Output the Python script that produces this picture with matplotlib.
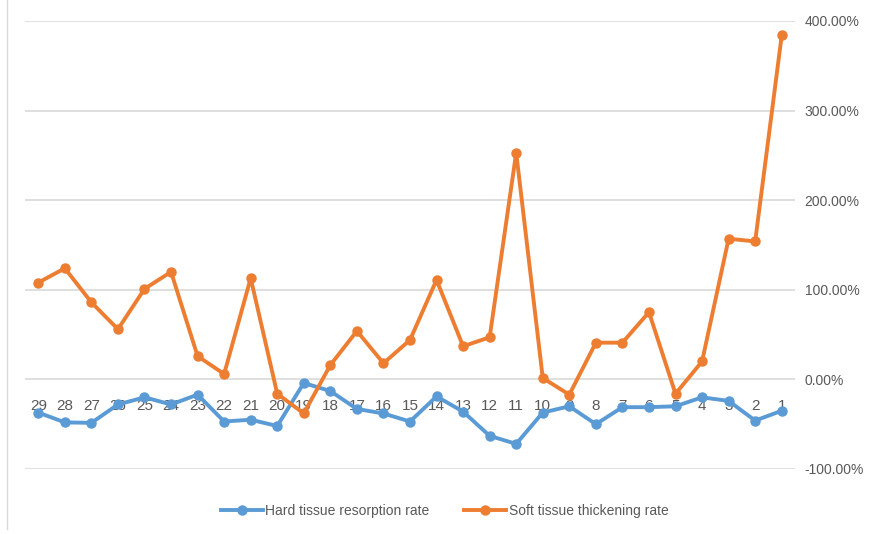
import matplotlib
matplotlib.use('Agg')
import matplotlib.pyplot as plt
from matplotlib.lines import Line2D
from matplotlib.ticker import FuncFormatter, MultipleLocator

plt.rcParams['font.family'] = ['Liberation Sans', 'DejaVu Sans']

# teeth numbers, shown right to left as in the original
teeth = ['29', '28', '27', '26', '25', '24', '23', '22', '21', '20',
         '19', '18', '17', '16', '15', '14', '13', '12', '11', '10',
         '9', '8', '7', '6', '5', '4', '3', '2', '1']
hard_rate = [-37, -48, -48.5, -28, -20, -28, -17, -47, -45, -52,
             -4, -13, -33, -38, -47, -19, -36, -63, -72, -37,
             -30, -50, -31, -31, -30, -20, -24, -46, -35]
soft_rate = [108, 124, 86, 56, 101, 120, 26, 6, 113, -16,
             -38, 16, 54, 18, 44, 111, 37, 47, 253, 1.5,
             -17, 41, 41, 75, -16, 20, 157, 154, 384]

blue = '#5B9BD5'
orange = '#ED7D31'
gray = '#595959'

fig = plt.figure(figsize=(8.69, 5.34), dpi=100)
ax = fig.add_axes([25 / 869, 65 / 534, 770 / 869, 448 / 534])

x = list(range(len(teeth)))
ax.plot(x, hard_rate, color=blue, lw=2.8, marker='o', ms=6.5,
        label='Hard tissue resorption rate', zorder=3)
ax.plot(x, soft_rate, color=orange, lw=2.8, marker='o', ms=6.5,
        label='Soft tissue thickening rate', zorder=3)

ax.set_xlim(-0.5, len(teeth) - 0.5)
ax.set_ylim(-100, 400)
ax.yaxis.set_major_locator(MultipleLocator(100))
ax.yaxis.set_major_formatter(FuncFormatter(lambda v, p: f'{v:.2f}%'))
ax.yaxis.tick_right()
ax.tick_params(axis='y', length=0, pad=7, labelsize=10, labelcolor=gray)
ax.grid(axis='y', color='#d9d9d9', lw=1.2, zorder=0)

# category labels sit on the zero line
ax.spines['bottom'].set_position(('data', 0))
ax.set_xticks(x)
ax.set_xticklabels(teeth)
ax.tick_params(axis='x', length=0, pad=14, labelsize=11, labelcolor=gray)
for s in ax.spines.values():
    s.set_visible(False)

ax.legend(loc='upper center', bbox_to_anchor=(0.545, -0.05), ncol=2,
          frameon=False, fontsize=10, labelcolor=gray, handlelength=3,
          columnspacing=2.5, handletextpad=0.2)

fig.add_artist(Line2D([7 / 869, 7 / 869], [0.01, 1], color='#d9d9d9', lw=1))

fig.savefig('out.png', dpi=100)
